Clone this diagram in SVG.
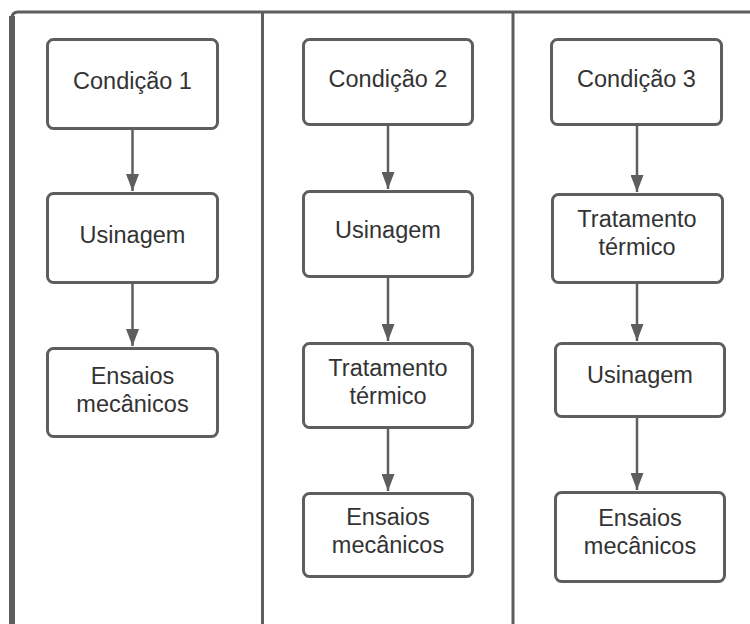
<svg xmlns="http://www.w3.org/2000/svg" width="750" height="624" viewBox="0 0 750 624">
<defs>
<style>
.box{fill:#fff;stroke:#5e5e5e;stroke-width:3}
.lbl{font-family:"Liberation Sans",Arial,sans-serif;font-size:23.5px;fill:#333;text-anchor:middle}
.frame{fill:none;stroke:#5e5e5e}
.conn{stroke:#5e5e5e;stroke-width:2.5;fill:none}
</style>
<marker id="ah" markerUnits="userSpaceOnUse" markerWidth="17" markerHeight="13" refX="17" refY="6.5" orient="auto" viewBox="0 0 17 13">
<path d="M0,0 L17,6.5 L0,13 Z" fill="#5e5e5e"/>
</marker>
</defs>
<rect width="750" height="624" fill="#fff"/>
<g id="frame">
<path class="frame" d="M12,630 V18 Q12,12 18,12 H760" stroke-width="3"/>
<line class="frame" x1="12" y1="16" x2="12" y2="630" stroke-width="6"/>
<line class="frame" x1="262.5" y1="12" x2="262.5" y2="630" stroke-width="3"/>
<line class="frame" x1="513" y1="12" x2="513" y2="630" stroke-width="3"/>
</g>
<g id="connectors">
<line class="conn" x1="132.5" y1="129" x2="132.5" y2="191" marker-end="url(#ah)"/>
<line class="conn" x1="132.5" y1="283" x2="132.5" y2="346" marker-end="url(#ah)"/>
<line class="conn" x1="388" y1="125" x2="388" y2="189" marker-end="url(#ah)"/>
<line class="conn" x1="388" y1="277" x2="388" y2="341" marker-end="url(#ah)"/>
<line class="conn" x1="388" y1="428" x2="388" y2="491" marker-end="url(#ah)"/>
<line class="conn" x1="637" y1="125" x2="637" y2="192" marker-end="url(#ah)"/>
<line class="conn" x1="637" y1="283" x2="637" y2="341" marker-end="url(#ah)"/>
<line class="conn" x1="637" y1="417" x2="637" y2="490" marker-end="url(#ah)"/>
</g>
<g id="c1">
<rect class="box" x="47.5" y="39.5" width="170" height="89" rx="6"/>
<text class="lbl" x="132.5" y="89">Condição 1</text>
</g>
<g id="c1-usinagem">
<rect class="box" x="47.5" y="193.5" width="170" height="89" rx="6"/>
<text class="lbl" x="132.5" y="243">Usinagem</text>
</g>
<g id="c1-ensaios">
<rect class="box" x="47.5" y="348.5" width="170" height="88" rx="6"/>
<text class="lbl" x="132.5" y="384">Ensaios</text>
<text class="lbl" x="132.5" y="412">mecânicos</text>
</g>
<g id="c2">
<rect class="box" x="303.5" y="39.5" width="169" height="85" rx="6"/>
<text class="lbl" x="388" y="87">Condição 2</text>
</g>
<g id="c2-usinagem">
<rect class="box" x="303.5" y="191.5" width="169" height="85" rx="6"/>
<text class="lbl" x="388" y="238">Usinagem</text>
</g>
<g id="c2-tratamento">
<rect class="box" x="303.5" y="343.5" width="169" height="84" rx="6"/>
<text class="lbl" x="388" y="376">Tratamento</text>
<text class="lbl" x="388" y="404">térmico</text>
</g>
<g id="c2-ensaios">
<rect class="box" x="303.5" y="493.5" width="169" height="83" rx="6"/>
<text class="lbl" x="388" y="525">Ensaios</text>
<text class="lbl" x="388" y="553">mecânicos</text>
</g>
<g id="c3">
<rect class="box" x="551.5" y="39.5" width="170" height="85" rx="6"/>
<text class="lbl" x="636.5" y="87">Condição 3</text>
</g>
<g id="c3-tratamento">
<rect class="box" x="552.5" y="194.5" width="170" height="88" rx="6"/>
<text class="lbl" x="637" y="227">Tratamento</text>
<text class="lbl" x="637" y="255">térmico</text>
</g>
<g id="c3-usinagem">
<rect class="box" x="555.5" y="343.5" width="169" height="73" rx="6"/>
<text class="lbl" x="640" y="383">Usinagem</text>
</g>
<g id="c3-ensaios">
<rect class="box" x="555.5" y="492.5" width="169" height="89" rx="6"/>
<text class="lbl" x="640" y="526">Ensaios</text>
<text class="lbl" x="640" y="554">mecânicos</text>
</g>
</svg>
